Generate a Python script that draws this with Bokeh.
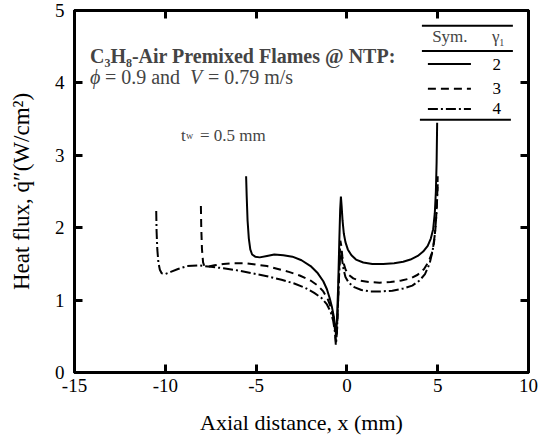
from bokeh.plotting import figure
from bokeh.models import Range1d, LinearAxis, FixedTicker, Label
from bokeh.embed import file_html
from bokeh.resources import INLINE

# ---------------- data ----------------
# gamma_1 = 2 (solid)
x_g2 = [-5.55, -5.52, -5.47, -5.4, -5.32, -5.22, -5.05, -4.8, -4.4, -4.0,
        -3.5, -3.0, -2.5, -2.0, -1.6, -1.3, -1.1, -0.95, -0.82, -0.72,
        -0.64, -0.6, -0.55, -0.48, -0.42, -0.37, -0.33, -0.29, -0.24, -0.17,
        -0.08, 0.05, 0.25, 0.5, 0.9, 1.4, 2.0, 2.6, 3.1, 3.5,
        3.9, 4.2, 4.45, 4.62, 4.75, 4.84, 4.9, 4.94, 4.97]
q_g2 = [2.71, 2.45, 2.1, 1.85, 1.7, 1.63, 1.6, 1.59, 1.61, 1.63,
        1.62, 1.6, 1.55, 1.47, 1.37, 1.26, 1.15, 1.03, 0.9, 0.77,
        0.62, 0.52, 0.7, 1.2, 1.8, 2.25, 2.43, 2.3, 2.1, 1.92,
        1.8, 1.7, 1.62, 1.56, 1.52, 1.5, 1.5, 1.51, 1.53, 1.56,
        1.61, 1.67, 1.75, 1.85, 1.98, 2.2, 2.5, 2.9, 3.45]
# gamma_1 = 3 (dashed)
x_g3 = [-8.04, -8.02, -7.98, -7.92, -7.85, -7.7, -7.3, -6.8, -6.2, -5.6,
        -5.0, -4.4, -3.8, -3.2, -2.6, -2.0, -1.6, -1.3, -1.05, -0.88,
        -0.75, -0.66, -0.6, -0.54, -0.47, -0.41, -0.36, -0.31, -0.25, -0.17,
        -0.07, 0.1, 0.35, 0.7, 1.2, 1.8, 2.4, 3.0, 3.5, 3.9,
        4.25, 4.5, 4.68, 4.8, 4.88, 4.94, 4.98, 5.0]
q_g3 = [2.3, 2.0, 1.7, 1.52, 1.47, 1.46, 1.48, 1.5, 1.51, 1.51,
        1.49, 1.47, 1.43, 1.39, 1.34, 1.27, 1.2, 1.12, 1.01, 0.9,
        0.77, 0.6, 0.42, 0.6, 1.1, 1.55, 1.82, 1.75, 1.6, 1.5,
        1.42, 1.35, 1.3, 1.27, 1.25, 1.24, 1.25, 1.27, 1.3, 1.35,
        1.43, 1.53, 1.65, 1.8, 2.0, 2.25, 2.5, 2.71]
# gamma_1 = 4 (dash-dot)
x_g4 = [-10.5, -10.48, -10.44, -10.38, -10.3, -10.2, -10.0, -9.7, -9.3, -8.8,
        -8.2, -7.5, -6.8, -6.0, -5.2, -4.4, -3.6, -2.9, -2.3, -1.8,
        -1.4, -1.1, -0.9, -0.76, -0.67, -0.61, -0.55, -0.48, -0.42, -0.37,
        -0.32, -0.26, -0.18, -0.08, 0.1, 0.4, 0.8, 1.3, 1.9, 2.5,
        3.1, 3.6, 4.0, 4.3, 4.55, 4.72, 4.84, 4.92, 4.97, 5.0]
q_g4 = [2.23, 1.95, 1.7, 1.52, 1.42, 1.37, 1.36, 1.39, 1.43, 1.47,
        1.48, 1.46, 1.44, 1.41, 1.37, 1.33, 1.28, 1.23, 1.17, 1.1,
        1.03, 0.94, 0.84, 0.72, 0.58, 0.38, 0.55, 1.0, 1.4, 1.62,
        1.68, 1.55, 1.42, 1.32, 1.24, 1.18, 1.14, 1.12, 1.12, 1.13,
        1.16, 1.2, 1.27, 1.36, 1.5, 1.68, 1.9, 2.15, 2.4, 2.6]

x_ticks = [-15, -10, -5, 0, 5, 10]
y_ticks = [0, 1, 2, 3, 4, 5]
x_tick_labels = ["-15", "-10", "-5", "0", "5", "10"]
y_tick_labels = ["0", "1", "2", "3", "4", "5"]
legend_labels = ["2", "3", "4"]
legend_dashes = ["solid", "8 5", "10 3 2 3"]

FONT = "Liberation Serif"

p = figure(width=544, height=437, output_backend="svg", toolbar_location=None,
           x_range=Range1d(-15, 10), y_range=Range1d(0, 5),
           min_border_left=74, min_border_right=16, min_border_top=10,
           min_border_bottom=64, x_axis_location=None, y_axis_location=None)
p.background_fill_color = "white"
p.border_fill_color = "white"
p.outline_line_color = "black"
p.outline_line_width = 3
p.xgrid.visible = False
p.ygrid.visible = False


def make_axis(ticks, labels, show_labels):
    ax = LinearAxis(ticker=FixedTicker(ticks=ticks))
    ax.axis_line_color = "black"
    ax.axis_line_width = 3
    ax.major_tick_in = 8
    ax.major_tick_out = 0
    ax.major_tick_line_width = 3
    ax.major_tick_line_color = "black"
    ax.minor_tick_line_color = None
    if show_labels:
        ax.major_label_overrides = {t: s for t, s in zip(ticks, labels)}
        ax.major_label_text_font = FONT
        ax.major_label_text_font_size = "19px"
        ax.major_label_text_color = "black"
        ax.axis_label_text_font = FONT
        ax.axis_label_text_font_style = "normal"
        ax.axis_label_text_color = "black"
    else:
        ax.major_label_text_font_size = "1px"
        ax.major_label_text_color = None
        ax.major_label_standoff = 0
    return ax


xb = make_axis(x_ticks, x_tick_labels, True)
xb.major_label_standoff = 6
xb.axis_label = "Axial distance, x (mm)"
xb.axis_label_text_font_size = "22px"
xb.axis_label_standoff = 15
p.add_layout(xb, "below")
yl = make_axis(y_ticks, y_tick_labels, True)
yl.major_label_standoff = 10
yl.axis_label = "Heat flux, q̇″(W/cm²)"
yl.axis_label_text_font_size = "23px"
yl.axis_label_standoff = 18
p.add_layout(yl, "left")
p.add_layout(make_axis(x_ticks, x_tick_labels, False), "above")
p.add_layout(make_axis(y_ticks, y_tick_labels, False), "right")

# curves
p.line(x_g2, q_g2, line_color="black", line_width=2)
p.line(x_g3, q_g3, line_color="black", line_width=2, line_dash=legend_dashes[1])
p.line(x_g4, q_g4, line_color="black", line_width=2, line_dash=legend_dashes[2])

# legend table (drawn manually)
p.segment(x0=[4.13, 4.13, 4.02], y0=[4.79, 4.44, 3.49],
          x1=[9.14, 9.14, 9.03], y1=[4.79, 4.44, 3.49],
          line_color="black", line_width=2)
leg_y = [4.26, 3.92, 3.64]
for yy, dash, lab in zip(leg_y, legend_dashes, legend_labels):
    p.line([4.46, 6.83], [yy, yy], line_color="black", line_width=2, line_dash=dash)
    p.add_layout(Label(x=8.25, y=yy, text=lab, text_font=FONT, text_font_size="17px",
                       text_align="center", text_baseline="middle", text_color="black"))
p.add_layout(Label(x=5.67, y=4.64, text="Sym.", text_font=FONT, text_font_size="17px",
                   text_align="center", text_baseline="middle"))
p.add_layout(Label(x=8.2, y=4.64, text="γ", text_font=FONT, text_font_size="17px",
                   text_align="center", text_baseline="middle"))
p.add_layout(Label(x=8.2, y=4.64, x_offset=6, y_offset=-6, text="1", text_font=FONT,
                   text_font_size="10px", text_align="center", text_baseline="middle"))

# annotations
AX = -14.15
p.add_layout(Label(x=AX, y=4.37, text="C₃H₈-Air Premixed Flames @ NTP:",
                   text_font=FONT, text_font_size="20px", text_font_style="bold",
                   text_baseline="alphabetic"))
p.add_layout(Label(x=AX, y=4.08, text="ϕ", text_font=FONT, text_font_size="20px",
                   text_font_style="italic", text_baseline="alphabetic"))
p.add_layout(Label(x=AX, y=4.08, x_offset=15, text="= 0.9 and", text_font=FONT,
                   text_font_size="20px", text_baseline="alphabetic"))
p.add_layout(Label(x=AX, y=4.08, x_offset=100, text="V", text_font=FONT,
                   text_font_size="20px", text_font_style="italic", text_baseline="alphabetic"))
p.add_layout(Label(x=AX, y=4.08, x_offset=118, text="= 0.79 m/s", text_font=FONT,
                   text_font_size="20px", text_baseline="alphabetic"))
p.add_layout(Label(x=-9.14, y=3.27, text="t", text_font=FONT, text_font_size="17px",
                   text_baseline="alphabetic"))
p.add_layout(Label(x=-9.14, y=3.27, x_offset=5, text="w", text_font=FONT,
                   text_font_size="10px", text_baseline="alphabetic"))
p.add_layout(Label(x=-9.14, y=3.27, x_offset=19, text="= 0.5 mm", text_font=FONT,
                   text_font_size="17px", text_baseline="alphabetic"))

open("out.html", "w").write(file_html(p, INLINE))
